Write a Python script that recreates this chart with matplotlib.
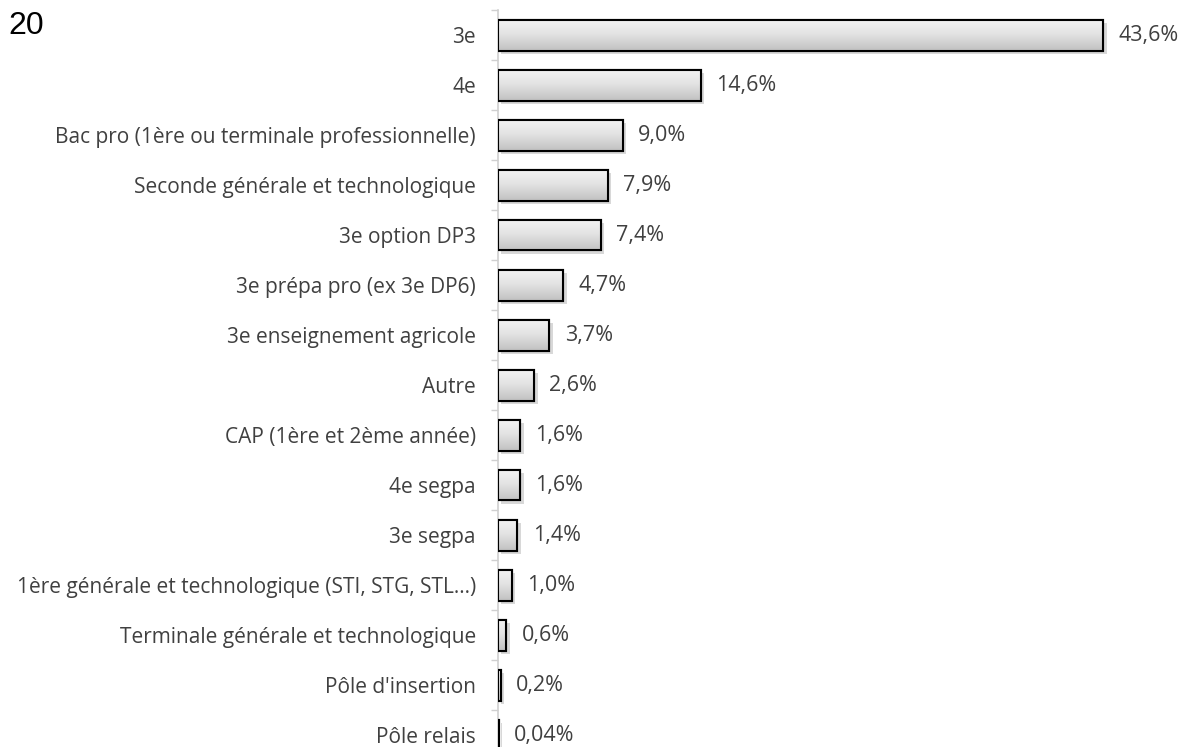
import numpy as np
import matplotlib.pyplot as plt
import matplotlib.patheffects as pe

categories = [
    "3e",
    "4e",
    "Bac pro (1ère ou terminale professionnelle)",
    "Seconde générale et technologique",
    "3e option DP3",
    "3e prépa pro (ex 3e DP6)",
    "3e enseignement agricole",
    "Autre",
    "CAP (1ère et 2ème année)",
    "4e segpa",
    "3e segpa",
    "1ère générale et technologique (STI, STG, STL...)",
    "Terminale générale et technologique",
    "Pôle d'insertion",
    "Pôle relais",
]
values = [43.6, 14.6, 9.0, 7.9, 7.4, 4.7, 3.7, 2.6, 1.6, 1.6, 1.4, 1.0, 0.6, 0.2, 0.04]
value_labels = ["43,6%", "14,6%", "9,0%", "7,9%", "7,4%", "4,7%", "3,7%", "2,6%",
                "1,6%", "1,6%", "1,4%", "1,0%", "0,6%", "0,2%", "0,04%"]

plt.rcParams['font.family'] = ['Open Sans', 'DejaVu Sans']
text_color = '#404040'

W, H = 1181, 747
fig = plt.figure(figsize=(W / 100, H / 100), dpi=100)
# axes placed in pixel terms: left spine at x=498, top at y=10, row pitch 50px
left = 498 / W
top = 1 - 10 / H
bottom = 1 - 760 / H
ax = fig.add_axes([left, bottom, 1 - left, top - bottom])

n = len(categories)
ypos = np.arange(n)
ax.set_xlim(0, (W - 498) / 13.88)
ax.set_ylim(n - 0.5, -0.5)

# gradient image for the bar fill (light on top, darker at the bottom)
grad = np.linspace(0, 1, 256).reshape(-1, 1)
cmap = plt.matplotlib.colors.LinearSegmentedColormap.from_list(
    'g', ['#c2c2c2', '#e2e2e2', '#f4f4f4'])

bars = ax.barh(ypos, values, height=0.62, facecolor='#dcdcdc', edgecolor='black',
               linewidth=1.5, zorder=3)
for b in bars:
    b.set_path_effects([pe.SimplePatchShadow(offset=(2.5, -2.5), shadow_rgbFace='#aaaaaa', alpha=0.45),
                        pe.Normal()])
    x0, y0 = b.get_x(), b.get_y()
    w, h = b.get_width(), b.get_height()
    im = ax.imshow(grad, cmap=cmap, aspect='auto', extent=(x0, x0 + w, y0, y0 + h),
                   zorder=3.5, interpolation='bicubic')
    im.set_clip_path(b)
    edge = plt.Rectangle((x0, y0), w, h, facecolor='none', edgecolor='black',
                         linewidth=1.5, zorder=4)
    ax.add_patch(edge)

for y, v, lab in zip(ypos, values, value_labels):
    ax.annotate(lab, (v, y), xytext=(11, 0), textcoords='offset points',
                va='center', ha='left', fontsize=15.5, color=text_color)

ax.set_yticks(ypos)
ax.set_yticklabels(categories, fontsize=15, color=text_color)
ax.set_yticks(np.arange(-0.5, n, 1), minor=True)
ax.tick_params(axis='y', which='major', length=0, pad=16)
ax.tick_params(axis='y', which='minor', length=5, color='#d0d0d0', width=1)
ax.set_xticks([])
for s in ['top', 'right', 'bottom']:
    ax.spines[s].set_visible(False)
ax.spines['left'].set_color('#d0d0d0')
ax.spines['left'].set_linewidth(1.2)
ax.set_facecolor('none')

fig.text(8 / W, 1 - 34 / H, "20", fontsize=23, family='Liberation Sans',
         color='black', ha='left', va='baseline')

fig.savefig('out.png', dpi=100)
